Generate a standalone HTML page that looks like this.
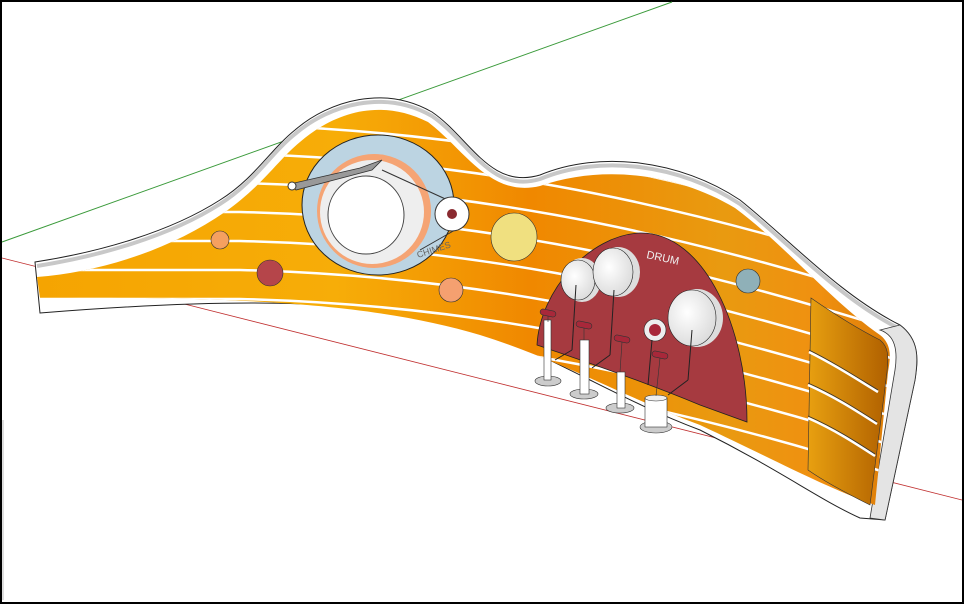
<!DOCTYPE html>
<html><head><meta charset="utf-8"><style>
html,body{margin:0;padding:0;background:#fff}
svg{display:block}
</style></head><body>
<svg width="964" height="604" viewBox="0 0 964 604" xmlns="http://www.w3.org/2000/svg">
<defs>
<linearGradient id="og" x1="0" y1="0" x2="1" y2="0">
<stop offset="0" stop-color="#f5a300"/>
<stop offset="0.35" stop-color="#f7ad08"/>
<stop offset="0.55" stop-color="#f08800"/>
<stop offset="0.75" stop-color="#e99a10"/>
<stop offset="0.85" stop-color="#f09010"/>
<stop offset="1" stop-color="#c86a00"/>
</linearGradient>
<linearGradient id="eg" x1="0" y1="0" x2="1" y2="0">
<stop offset="0" stop-color="#e8a010"/>
<stop offset="1" stop-color="#b06000"/>
</linearGradient>
<radialGradient id="dg" cx="0.4" cy="0.4" r="0.7"><stop offset="0" stop-color="#fff"/><stop offset="1" stop-color="#d8d8d8"/></radialGradient>
<clipPath id="oc"><path d="M37,277 C100,272 170,250 225,212 C262,186 278,160 300,142 C335,112 380,98 428,122 C465,150 490,198 540,186 C600,165 675,172 735,208 C785,245 830,300 880,335 C893,345 890,360 888,372 L875,505 C820,485 775,460 700,425 C620,395 560,360 480,335 C380,305 250,296 40,298 Z"/></clipPath>
</defs>
<rect x="1" y="1" width="962" height="602" fill="#fff" stroke="#000" stroke-width="2"/>
<line x1="2" y1="242" x2="672" y2="2" stroke="#3a9a3a" stroke-width="1"/>
<line x1="2" y1="258" x2="962" y2="500" stroke="#c03030" stroke-width="0.8"/>
<line x1="3" y1="420" x2="3" y2="600" stroke="#aaa" stroke-width="0.8"/>

<!-- wall white body -->
<path d="M35,262 C100,252 170,232 220,200 C255,178 270,150 295,130 C330,100 385,85 432,112 C470,138 490,190 540,175 C600,150 680,160 740,200 C790,240 840,295 900,325 C920,340 918,360 915,380 L885,520 L860,518 C820,500 780,470 700,430 C620,400 560,360 480,330 C380,300 250,296 40,313 Z" fill="#ffffff" stroke="#222" stroke-width="1"/>
<path d="M37,266 C100,256 170,236 220,204 C255,182 270,154 295,134 C330,104 385,89 432,116 C470,142 490,194 540,179 C600,154 680,164 740,204 C790,244 840,299 900,329" fill="none" stroke="#c8c8c8" stroke-width="4"/>
<path d="M900,325 C920,340 918,360 915,380 L885,520 L870,518 L895,370 C898,350 895,335 880,330 Z" fill="#e4e4e4" stroke="#333" stroke-width="0.8"/>

<!-- orange face -->
<g clip-path="url(#oc)">
<rect x="0" y="0" width="964" height="604" fill="url(#og)"/>
<g fill="none" stroke="#fff" stroke-width="2.5">
<path d="M0,125 L240,125 C450,130 650,165 900,245"/>
<path d="M0,154 L240,154 C450,159 650,194 900,274"/>
<path d="M0,183 L240,183 C450,188 650,223 900,303"/>
<path d="M0,212 L240,212 C450,217 650,252 900,332"/>
<path d="M0,241 L240,241 C450,246 650,281 900,361"/>
<path d="M0,270 L240,270 C450,275 650,310 900,390"/>
<path d="M0,299 L240,299 C450,304 650,339 900,419"/>
<path d="M0,328 L240,328 C450,333 650,368 900,448"/>
<path d="M0,357 L240,357 C450,362 650,397 900,477"/>
</g>
</g>
<!-- right end panel -->
<path d="M811,298 C840,318 860,330 880,340 C890,348 888,360 887,372 L870,505 C850,495 825,482 808,470 Z" fill="url(#eg)" stroke="#333" stroke-width="0.6"/>
<g fill="none" stroke="#fff" stroke-width="2.5">
<path d="M809,352 C835,365 855,378 878,392"/>
<path d="M808,385 C835,397 855,410 877,424"/>
<path d="M808,418 C835,430 855,443 875,456"/>
</g>
<g fill="none" stroke="#333" stroke-width="0.8">
<path d="M809,350 C835,363 855,376 878,390"/>
<path d="M808,383 C835,395 855,408 877,422"/>
<path d="M808,416 C835,428 855,441 875,454"/>
</g>

<!-- chimes ring -->
<ellipse cx="378" cy="205" rx="76" ry="70" fill="#bcd4e2" stroke="#222" stroke-width="1"/>
<ellipse cx="374" cy="211" rx="57" ry="57" fill="#f5a474"/>
<ellipse cx="372" cy="212" rx="52" ry="52" fill="#eee"/>
<ellipse cx="366" cy="215" rx="38" ry="39" fill="#fff" stroke="#444" stroke-width="1"/>
<path d="M290,184 L360,168 L382,160 L372,170 L296,190 Z" fill="#999" stroke="#333" stroke-width="0.8"/>
<circle cx="292" cy="186" r="4" fill="#fff" stroke="#333"/>
<line x1="382" y1="170" x2="452" y2="202" stroke="#333" stroke-width="1"/>
<line x1="420" y1="250" x2="455" y2="230" stroke="#333" stroke-width="1"/>
<circle cx="452" cy="214" r="17" fill="#fff" stroke="#333"/>
<circle cx="452" cy="214" r="5" fill="#8a2a30"/>
<text x="418" y="258" font-family="Liberation Sans,sans-serif" font-size="9" fill="#666" transform="rotate(-18 418 258)">CHIMES</text>

<!-- dots -->
<circle cx="220" cy="240" r="9" fill="#f5a060" stroke="#333" stroke-width="0.6"/>
<circle cx="270" cy="273" r="13" fill="#b5454a" stroke="#333" stroke-width="0.6"/>
<circle cx="451" cy="290" r="12" fill="#f5a070" stroke="#333" stroke-width="0.6"/>
<ellipse cx="514" cy="237" rx="23" ry="24" fill="#f0e080" stroke="#333" stroke-width="0.6"/>
<circle cx="748" cy="281" r="12" fill="#8fb0b8" stroke="#333" stroke-width="0.6"/>

<!-- drum panel -->
<path d="M537,345 C540,290 590,235 640,233 C705,232 747,330 747,422 L700,405 C640,380 580,360 537,345 Z" fill="#a63a40" stroke="#222" stroke-width="0.8"/>
<text x="646" y="258" font-family="Liberation Sans,sans-serif" font-size="11" fill="#eee" transform="rotate(12 646 258)">DRUM</text>
<ellipse cx="582" cy="280" rx="19" ry="22" fill="#ddd"/><ellipse cx="578" cy="280" rx="17" ry="20" fill="url(#dg)" stroke="#222" stroke-width="0.6"/>
<ellipse cx="618" cy="272" rx="22" ry="25" fill="#ddd"/><ellipse cx="613" cy="272" rx="20" ry="24" fill="url(#dg)" stroke="#222" stroke-width="0.6"/>
<ellipse cx="697" cy="318" rx="26" ry="29" fill="#ddd"/><ellipse cx="692" cy="318" rx="24" ry="28" fill="url(#dg)" stroke="#222" stroke-width="0.6"/>
<circle cx="655" cy="330" r="11" fill="#eee" stroke="#222" stroke-width="0.6"/>
<circle cx="655" cy="330" r="6" fill="#a8283a"/>
<g stroke="#222" stroke-width="1" fill="none">
<line x1="576" y1="285" x2="572" y2="350"/><line x1="572" y1="350" x2="555" y2="360"/>
<line x1="614" y1="290" x2="610" y2="355"/><line x1="610" y1="355" x2="592" y2="368"/>
<line x1="652" y1="340" x2="648" y2="385"/>
<line x1="692" y1="330" x2="688" y2="380"/><line x1="688" y1="380" x2="668" y2="395"/>
</g>
<!-- stands -->
<g stroke="#333" stroke-width="0.6">
<ellipse cx="548" cy="381" rx="13" ry="5" fill="#ccc"/><rect x="544" y="320" width="7" height="60" fill="#fff"/>
<ellipse cx="584" cy="394" rx="14" ry="5" fill="#ccc"/><rect x="580" y="340" width="9" height="54" fill="#fff"/>
<ellipse cx="620" cy="408" rx="14" ry="5" fill="#ccc"/><rect x="617" y="372" width="8" height="36" fill="#fff"/>
<ellipse cx="656" cy="427" rx="16" ry="6" fill="#ccc"/><rect x="645" y="398" width="22" height="29" fill="#fff"/><ellipse cx="656" cy="398" rx="11" ry="3" fill="#eee"/>
<rect x="540" y="310" width="16" height="6" rx="3" fill="#a8283a" transform="rotate(12 548 313)"/>
<rect x="576" y="322" width="16" height="6" rx="3" fill="#a8283a" transform="rotate(12 584 325)"/>
<rect x="614" y="336" width="16" height="6" rx="3" fill="#a8283a" transform="rotate(12 622 339)"/>
<rect x="652" y="352" width="16" height="6" rx="3" fill="#a8283a" transform="rotate(12 660 355)"/>
<line x1="548" y1="316" x2="548" y2="322"/><line x1="584" y1="328" x2="584" y2="340"/><line x1="622" y1="342" x2="620" y2="372"/><line x1="660" y1="358" x2="656" y2="396"/>
</g>
</svg>
</body></html>
